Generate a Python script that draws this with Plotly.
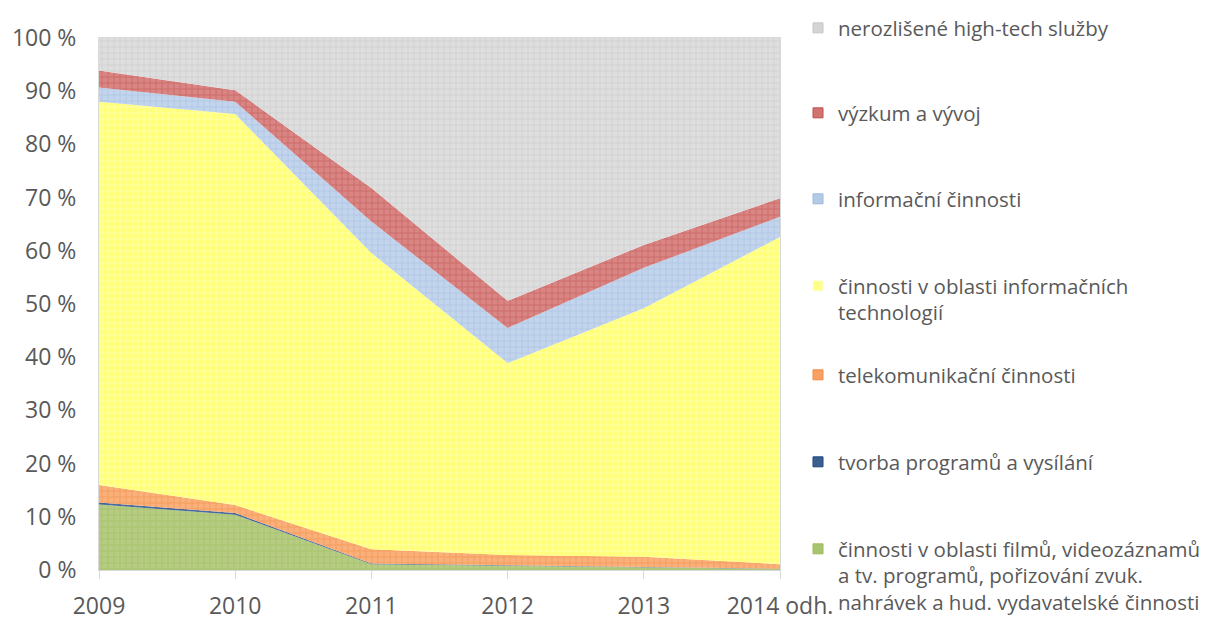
import plotly.graph_objects as go

years = ["2009", "2010", "2011", "2012", "2013", "2014 odh."]

film = [12.3, 10.4, 1.1, 0.8, 0.5, 0.2]
tvorba = [0.4, 0.3, 0.1, 0.05, 0.05, 0.05]
telekom = [3.3, 1.5, 2.7, 1.95, 1.95, 0.85]
it_cinnosti = [72.0, 73.5, 55.7, 36.1, 46.7, 61.5]
informacni = [2.7, 2.3, 5.9, 6.6, 7.6, 3.8]
vyzkum = [3.2, 2.2, 6.3, 5.1, 4.3, 3.5]
nerozlisene = [6.1, 9.8, 28.2, 49.4, 38.9, 30.1]

names = [
    "činnosti v oblasti filmů, videozáznamů<br>a tv. programů, pořizování zvuk.<br>nahrávek a hud. vydavatelské činnosti",
    "tvorba programů a vysílání",
    "telekomunikační činnosti",
    "činnosti v oblasti informačních<br>technologií",
    "informační činnosti",
    "výzkum a vývoj",
    "nerozlišené high-tech služby",
]
series = [film, tvorba, telekom, it_cinnosti, informacni, vyzkum, nerozlisene]

# (background, pattern foreground, legend colour)
styles = [
    ("#b5cc82", "#9bbb59", "#a9c46e"),
    ("#4f6fa0", "#1f497d", "#3c5f8f"),
    ("#f9b07a", "#f58a3e", "#f7a264"),
    ("#ffff78", "#ffffd8", "#ffff88"),
    ("#c3d5ec", "#9fbbe0", "#b3c9e6"),
    ("#d98583", "#c0504d", "#d07371"),
    ("#dedede", "#c6c6c6", "#d4d4d4"),
]

FONT = "Open Sans"
TXT = "#595959"
OFF = 8  # page body margin
W, H = 1211 - OFF, 624 - OFF

fig = go.Figure()
for vals, nm, (bg, fg, lc) in zip(series, names, styles):
    fig.add_trace(go.Scatter(
        x=years, y=vals, stackgroup="one", mode="lines",
        line=dict(width=0, color=fg),
        fillcolor=bg,
        fillpattern=dict(shape="+", bgcolor=bg, fgcolor=fg, size=6, solidity=0.3),
        showlegend=False, name=nm, hoverinfo="skip",
    ))

# legend entries: one legend per item, top to bottom
legend_centers = [25, 115, 201, 288, 377, 464, 551]  # pixel y of first text line
order = list(range(6, -1, -1))
for k, idx in enumerate(order):
    lname = "legend" if k == 0 else f"legend{k+1}"
    bg, fg, lc = styles[idx]
    fig.add_trace(go.Scatter(
        x=[None], y=[None], mode="markers",
        marker=dict(symbol="square", size=10, color=lc, line=dict(color=fg, width=1)),
        name=names[idx], legend=lname, showlegend=True,
    ))
    ytop = legend_centers[k] - 22 - OFF
    fig.update_layout({lname: dict(
        xref="container", yref="container",
        x=(798 - OFF) / W, xanchor="left", y=1 - ytop / H, yanchor="top",
        font=dict(family=FONT, size=20.5, color=TXT),
        bgcolor="rgba(0,0,0,0)", borderwidth=0, valign="top",
        itemsizing="trace", tracegroupgap=0,
    )})

fig.update_layout(
    width=W, height=H,
    margin=dict(l=99 - OFF, r=431, t=38 - OFF, b=54, autoexpand=False),
    paper_bgcolor="white", plot_bgcolor="white",
    font=dict(family=FONT, color=TXT),
    xaxis=dict(
        type="category", range=[0, 5], automargin=False,
        showgrid=True, gridcolor="#d9d9d9", gridwidth=1,
        showline=True, linecolor="#d9d9d9", linewidth=1, mirror=True,
        ticks="outside", ticklen=8, tickcolor="#d9d9d9",
        tickfont=dict(family=FONT, size=23, color=TXT),
        ticklabelstandoff=7,
        zeroline=False,
    ),
    yaxis=dict(
        range=[0, 100], automargin=False,
        tickvals=list(range(0, 101, 10)),
        ticktext=[f"{v} %" for v in range(0, 101, 10)],
        showgrid=True, gridcolor="#d9d9d9", gridwidth=1,
        showline=True, linecolor="#d9d9d9", linewidth=1, mirror=True,
        ticks="", tickfont=dict(family=FONT, size=23, color=TXT),
        ticklabelstandoff=17,
        zeroline=False,
    ),
)

fig.write_html("out.html")
